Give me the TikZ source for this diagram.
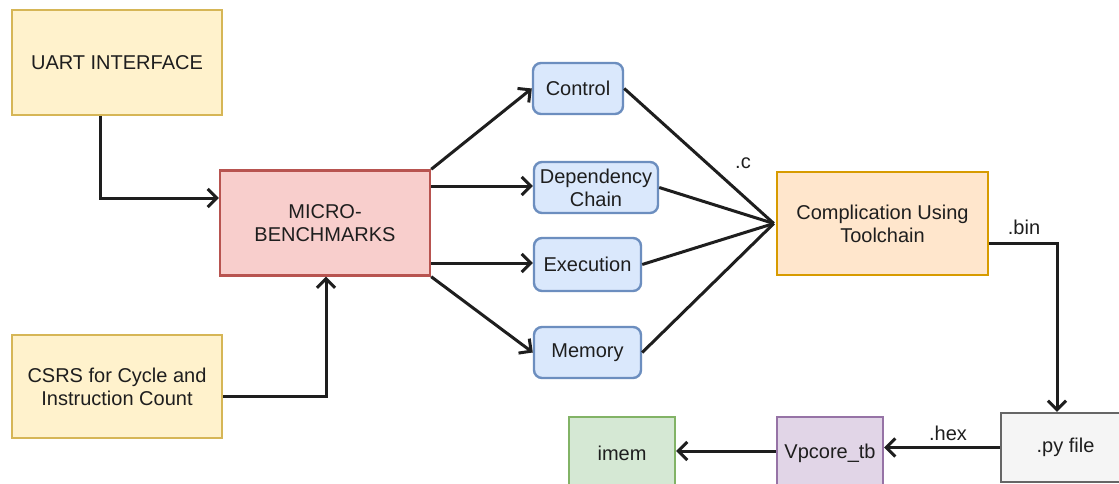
\documentclass[tikz,border=0pt]{standalone}
\usepackage{fontspec}
\setmainfont{Liberation Sans}
\usetikzlibrary{arrows.meta}
\definecolor{yfill}{HTML}{FFF2CC}\definecolor{ydraw}{HTML}{D6B656}
\definecolor{rfill}{HTML}{F8CECC}\definecolor{rdraw}{HTML}{B85450}
\definecolor{bfill}{HTML}{DAE8FC}\definecolor{bdraw}{HTML}{6C8EBF}
\definecolor{ofill}{HTML}{FFE6CC}\definecolor{odraw}{HTML}{D79B00}
\definecolor{gfill}{HTML}{F5F5F5}\definecolor{gdraw}{HTML}{666666}
\definecolor{pfill}{HTML}{E1D5E7}\definecolor{pdraw}{HTML}{9673A6}
\definecolor{nfill}{HTML}{D5E8D4}\definecolor{ndraw}{HTML}{82B366}
\definecolor{ink}{HTML}{1E1E1E}
\begin{document}
\begin{tikzpicture}[x=1pt,y=-1pt,
  box/.style={draw, line width=2.4pt, inner sep=0pt, align=center, text=ink,
    font=\fontsize{20}{23}\selectfont},
  blk/.style={box, rounded corners=8pt},
  arr/.style={line width=3pt, draw=ink, -{Straight Barb[length=9pt,width=18pt,line width=3pt]}},
  ln/.style={line width=3pt, draw=ink},
  lbl/.style={text=ink, font=\fontsize{20}{23}\selectfont, inner sep=0pt}]
\useasboundingbox (0,0) rectangle (1119,484);
\clip (0,0) rectangle (1119,484);
\fill[white] (0,0) rectangle (1119,484);

% source blocks
\node[box, fill=yfill, draw=ydraw, minimum width=210pt, minimum height=105pt] (uart) at (117,62.5) {UART INTERFACE};
\node[box, fill=rfill, draw=rdraw, minimum width=210pt, minimum height=105pt] (micro) at (325,223) {MICRO-\\BENCHMARKS};
\node[box, fill=yfill, draw=ydraw, minimum width=210pt, minimum height=103pt] (csrs) at (117,386.5) {CSRS for Cycle and\\Instruction Count};

% benchmark categories
\node[blk, fill=bfill, draw=bdraw, minimum width=90pt, minimum height=51pt] (control) at (578,88.5) {Control};
\node[blk, fill=bfill, draw=bdraw, minimum width=124pt, minimum height=51pt] (dep) at (596,187.5) {Dependency\\Chain};
\node[blk, fill=bfill, draw=bdraw, minimum width=107pt, minimum height=53pt] (exec) at (587.5,264.5) {Execution};
\node[blk, fill=bfill, draw=bdraw, minimum width=107pt, minimum height=51pt] (mem) at (587.5,352.5) {Memory};

% build flow
\node[box, fill=ofill, draw=odraw, minimum width=211pt, minimum height=103pt] (comp) at (882.5,223.5) {Complication Using\\Toolchain};
\node[box, fill=gfill, draw=gdraw, minimum width=129pt, minimum height=69pt] (py) at (1065.5,447.5) {.py file};
\node[box, fill=pfill, draw=pdraw, minimum width=106pt, minimum height=73pt] (vp) at (830,453.5) {Vpcore\_tb};
\node[box, fill=nfill, draw=ndraw, minimum width=106pt, minimum height=73pt] (imem) at (622,453.5) {imem};

% inputs to the benchmarks
\draw[arr] ([xshift=-17pt]uart.south) |- ([yshift=25pt]micro.west);
\draw[arr] ([yshift=-9.5pt]csrs.east) -| ([xshift=1pt]micro.south);

% fan-out to categories
\draw[arr] (micro.north east) -- (control.west);
\draw[arr] ([yshift=37pt]micro.east) -- ([yshift=37pt]micro.east -| dep.west);
\draw[arr] ([yshift=-40pt]micro.east) -- ([yshift=-40pt]micro.east -| exec.west);
\draw[arr] (micro.south east) -- (mem.west);

% fan-in to the compiler
\coordinate (join) at ([xshift=-2pt]comp.west);
\draw[ln] (control.east) -- (join);
\draw[ln] (dep.east) -- (join);
\draw[ln] (exec.east) -- (join);
\draw[ln] (mem.east) -- (join);
\node[lbl] (lc) at (743,163) {.c};

% binary to memory image
\draw[arr] ([yshift=-19.5pt]comp.east) -| ([xshift=-8.5pt]py.north);
\node[lbl] (lbin) at (1024,227) {.bin};
\draw[arr] (py.west) -- (py.west -| vp.east);
\node[lbl] (lhex) at (948,433) {.hex};
\draw[arr] ([yshift=2.5pt]vp.west) -- ([yshift=2.5pt]imem.east);
\end{tikzpicture}
\end{document}
